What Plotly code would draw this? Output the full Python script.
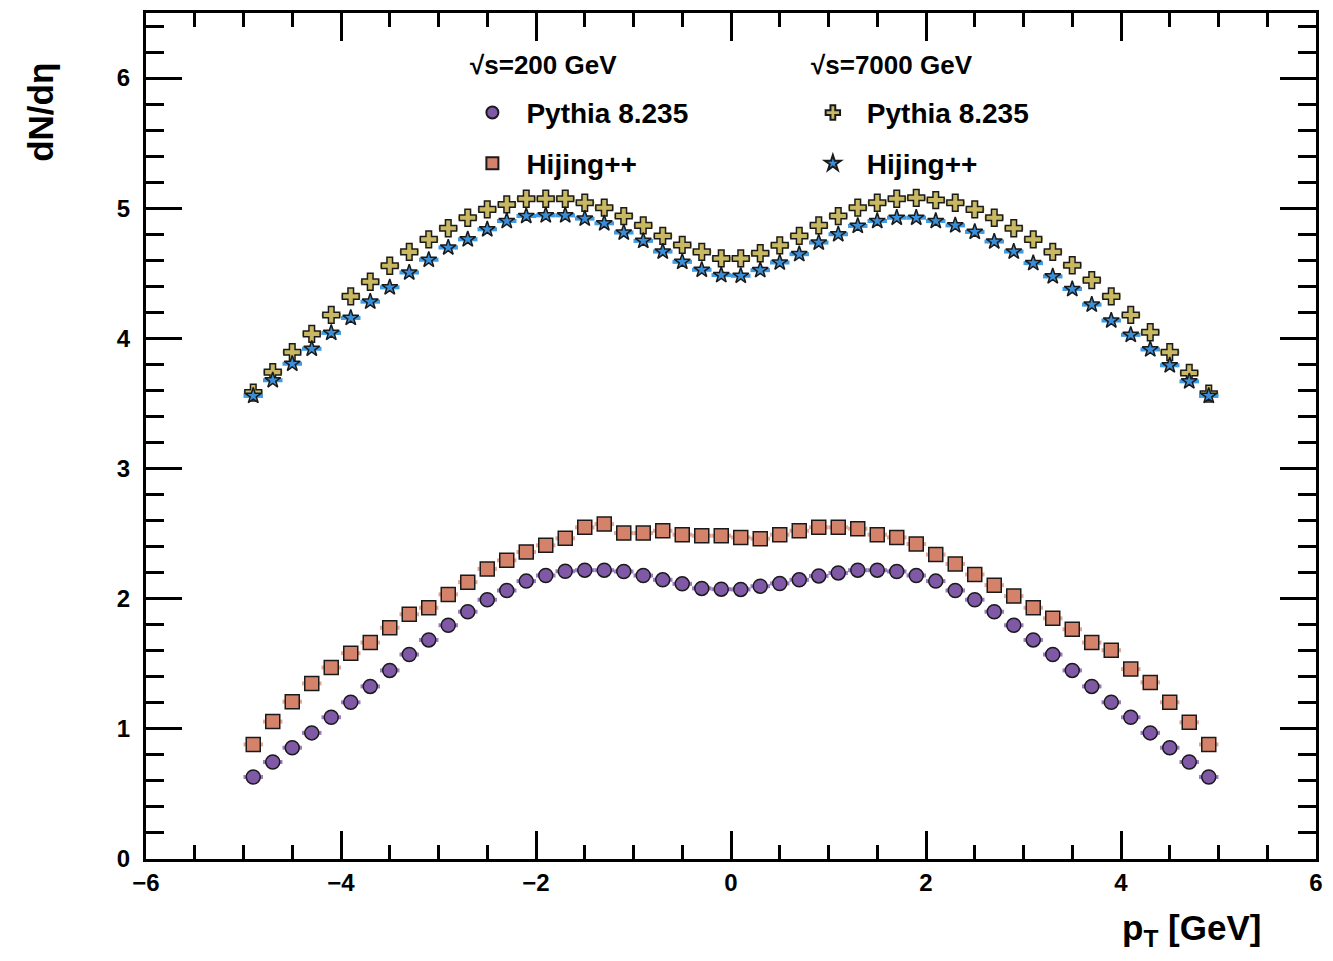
import plotly.graph_objects as go

x_centers = [-4.9, -4.7, -4.5, -4.3, -4.1, -3.9, -3.7, -3.5, -3.3, -3.1,
             -2.9, -2.7, -2.5, -2.3, -2.1, -1.9, -1.7, -1.5, -1.3, -1.1,
             -0.9, -0.7, -0.5, -0.3, -0.1, 0.1, 0.3, 0.5, 0.7, 0.9,
             1.1, 1.3, 1.5, 1.7, 1.9, 2.1, 2.3, 2.5, 2.7, 2.9,
             3.1, 3.3, 3.5, 3.7, 3.9, 4.1, 4.3, 4.5, 4.7, 4.9]

pythia_200 = [0.630, 0.745, 0.855, 0.969, 1.089, 1.204, 1.326, 1.449, 1.571, 1.683,
              1.796, 1.900, 1.992, 2.063, 2.135, 2.178, 2.211, 2.219, 2.219, 2.209,
              2.178, 2.145, 2.114, 2.079, 2.073, 2.071, 2.096, 2.117, 2.145, 2.175,
              2.198, 2.219, 2.219, 2.209, 2.178, 2.135, 2.063, 1.992, 1.900, 1.796,
              1.683, 1.571, 1.449, 1.326, 1.204, 1.089, 0.969, 0.855, 0.745, 0.630]

hijing_200 = [0.880, 1.056, 1.209, 1.349, 1.471, 1.581, 1.663, 1.777, 1.880, 1.930,
              2.033, 2.127, 2.229, 2.295, 2.359, 2.410, 2.464, 2.548, 2.573, 2.504,
              2.504, 2.522, 2.492, 2.484, 2.484, 2.471, 2.461, 2.492, 2.522, 2.548,
              2.548, 2.538, 2.492, 2.471, 2.420, 2.339, 2.267, 2.186, 2.104, 2.020,
              1.930, 1.849, 1.765, 1.663, 1.604, 1.459, 1.357, 1.204, 1.050, 0.880]

pythia_7000 = [3.583, 3.741, 3.894, 4.035, 4.180, 4.323, 4.435, 4.558, 4.665, 4.761,
               4.846, 4.927, 4.991, 5.029, 5.073, 5.073, 5.073, 5.042, 5.004, 4.940,
               4.868, 4.787, 4.718, 4.665, 4.614, 4.614, 4.654, 4.715, 4.787, 4.868,
               4.940, 5.004, 5.042, 5.073, 5.080, 5.063, 5.042, 4.991, 4.927, 4.846,
               4.761, 4.665, 4.562, 4.448, 4.323, 4.180, 4.047, 3.894, 3.734, 3.575]

hijing_7000 = [3.558, 3.678, 3.805, 3.920, 4.042, 4.157, 4.282, 4.392, 4.506, 4.604,
               4.698, 4.761, 4.838, 4.902, 4.940, 4.945, 4.945, 4.920, 4.884, 4.813,
               4.749, 4.667, 4.588, 4.527, 4.486, 4.481, 4.524, 4.583, 4.647, 4.736,
               4.800, 4.864, 4.902, 4.927, 4.927, 4.902, 4.868, 4.818, 4.744, 4.667,
               4.578, 4.476, 4.379, 4.259, 4.137, 4.027, 3.915, 3.793, 3.670, 3.558]

bin_half_width = 0.1

series = [
    dict(name="Pythia 8.235", y=pythia_200, symbol="circle", size=14,
         color="#7f58a6", ecolor="#9a7cc2", legend="legend"),
    dict(name="Hijing++", y=hijing_200, symbol="square", size=14,
         color="#d5826b", ecolor="#e4a594", legend="legend2"),
    dict(name="Pythia 8.235", y=pythia_7000, symbol="cross", size=14,
         color="#c8b862", ecolor="#d6cb8c", legend="legend3"),
    dict(name="Hijing++", y=hijing_7000, symbol="star", size=12,
         color="#3a8fd8", ecolor="#3f9be2", legend="legend4"),
]

fig = go.Figure()
for s in series:
    fig.add_trace(go.Scatter(
        x=x_centers, y=s["y"], mode="markers", name=s["name"],
        legend=s["legend"], showlegend=True,
        marker=dict(symbol=s["symbol"], size=s["size"], color=s["color"],
                    line=dict(color="#1a1a1a", width=1.5)),
        error_x=dict(type="constant", value=bin_half_width, width=0,
                     thickness=4, color=s["ecolor"]),
    ))

font_family = "Liberation Sans, Arial, Helvetica, sans-serif"
leg_font = dict(family=font_family, size=28, color="black", weight="bold")


def leg(x, y):
    return dict(x=x, y=y, xref="paper", yref="paper", xanchor="left",
                yanchor="middle", bgcolor="rgba(0,0,0,0)", borderwidth=0,
                font=leg_font, itemwidth=58, itemsizing="constant",
                visible=True)


tick_font = dict(family=font_family, size=24, color="black", weight="bold")

fig.update_layout(
    width=1333, height=961,
    margin=dict(l=146, r=15, t=10, b=102),
    paper_bgcolor="white", plot_bgcolor="white",
    showlegend=True,
    legend=leg(0.267, 0.882),
    legend2=leg(0.267, 0.822),
    legend3=leg(0.558, 0.882),
    legend4=leg(0.558, 0.822),
    xaxis=dict(range=[-6, 6], dtick=2, tick0=0, showgrid=False, zeroline=False,
               showline=True, linecolor="black", linewidth=3, mirror="ticks",
               ticks="inside", ticklen=28, tickwidth=2.5, tickcolor="black",
               tickfont=tick_font,
               minor=dict(ticks="inside", dtick=0.5, ticklen=14, tickwidth=2.5,
                          tickcolor="black", showgrid=False)),
    yaxis=dict(range=[0, 6.5], dtick=1, tick0=0, showgrid=False, zeroline=False,
               showline=True, linecolor="black", linewidth=3, mirror="ticks",
               ticks="inside", ticklen=36, tickwidth=2.5, tickcolor="black",
               ticklabelstandoff=8,
               tickfont=tick_font,
               minor=dict(ticks="inside", dtick=0.2, ticklen=18, tickwidth=2.5,
                          tickcolor="black", showgrid=False)),
    annotations=[
        dict(text="<b>√s=200 GeV</b>", x=(469 - 146) / 1172, y=(859 - 62) / 849,
             xref="paper", yref="paper", xanchor="left", yanchor="middle",
             showarrow=False, font=dict(family=font_family, size=26, color="black")),
        dict(text="<b>√s=7000 GeV</b>", x=(810 - 146) / 1172, y=(859 - 62) / 849,
             xref="paper", yref="paper", xanchor="left", yanchor="middle",
             showarrow=False, font=dict(family=font_family, size=26, color="black")),
        dict(text="<b>dN/dη</b>", textangle=-90, x=(40 - 146) / 1172, y=(859 - 110) / 849,
             xref="paper", yref="paper", xanchor="center", yanchor="middle",
             showarrow=False, font=dict(family=font_family, size=35, color="black")),
        dict(text="<b>p<sub>T</sub> [GeV]</b>", x=(1193 - 146) / 1172, y=(859 - 930) / 849,
             xref="paper", yref="paper", xanchor="center", yanchor="middle",
             showarrow=False, font=dict(family=font_family, size=35, color="black")),
    ],
)

fig.write_html("out.html")
